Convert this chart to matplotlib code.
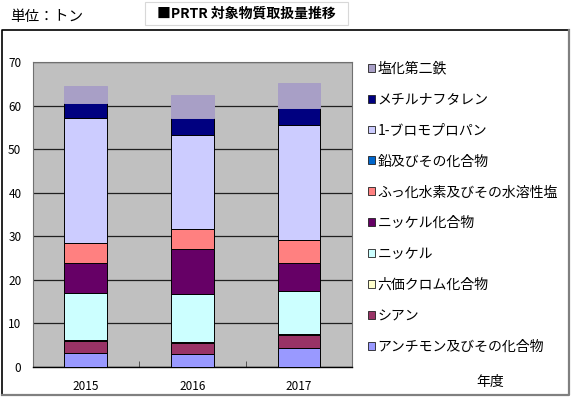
import matplotlib.pyplot as plt
from matplotlib.patches import Rectangle
import numpy as np

plt.rcParams['font.family'] = ['Noto Sans CJK JP', 'DejaVu Sans']

years = ['2015', '2016', '2017']
substances = ['アンチモン及びその化合物', 'シアン', '六価クロム化合物', 'ニッケル',
              'ニッケル化合物', 'ふっ化水素及びその水溶性塩', '鉛及びその化合物',
              '1-ブロモプロパン', 'メチルナフタレン', '塩化第二鉄']
antimony = [3.3, 3.0, 4.3]
cyanide = [2.6, 2.6, 3.1]
chromium6 = [0.3, 0.2, 0.1]
nickel = [10.8, 10.9, 10.0]
nickel_cmp = [7.0, 10.3, 6.4]
hf = [4.4, 4.8, 5.2]
lead = [0.0, 0.0, 0.0]
bromopropane = [28.7, 21.6, 26.6]
methylnaph = [3.6, 3.8, 3.7]
fecl3 = [3.9, 5.2, 5.8]
series = [antimony, cyanide, chromium6, nickel, nickel_cmp, hf, lead,
          bromopropane, methylnaph, fecl3]
colors = ['#9999FF', '#993366', '#FFFFCC', '#CCFFFF', '#660066', '#FF8080',
          '#0066CC', '#CCCCFF', '#000080', '#A89FC6']

W, H = 574, 399
fig = plt.figure(figsize=(W / 100, H / 100), dpi=100)
ax = fig.add_axes([32.5 / W, (H - 367) / H, (352.3 - 32.5) / W, (367 - 62.3) / H])
ax.set_facecolor('#C0C0C0')

x = np.arange(1, len(years) + 1)
bottom = np.zeros(len(years))
handles = []
for vals, c, name in zip(series, colors, substances):
    ec = c if name == '塩化第二鉄' else 'black'
    b = ax.bar(x, vals, 0.40, bottom=bottom, color=c, edgecolor=ec,
               linewidth=0.7, label=name, zorder=3)
    bottom += np.array(vals)
    handles.append(b)

ax.set_xlim(0.5, 3.5)
ax.set_ylim(0, 70)
ax.set_yticks(range(0, 71, 10))
ax.set_xticks(x)
ax.set_xticklabels(years)
ax.set_xticks([1.5, 2.5], minor=True)
ax.tick_params(axis='x', which='major', length=0, labelsize=8.5, pad=9)
ax.tick_params(axis='x', which='minor', direction='in', length=4, color='#404040')
ax.tick_params(axis='y', length=0, labelsize=8.5, pad=8)
ax.yaxis.grid(True, color='#202020', linewidth=0.9, zorder=1)
ax.set_axisbelow(True)
for s in ['top', 'right', 'left']:
    ax.spines[s].set_color('#707070')
    ax.spines[s].set_linewidth(0.8)
ax.spines['bottom'].set_color('black')
ax.spines['bottom'].set_linewidth(1.0)

leg = fig.legend(handles[::-1], substances[::-1], loc='upper left',
                 bbox_to_anchor=(362 / W, 1 - 56 / H), frameon=False,
                 fontsize=10, handlelength=0.5, handleheight=0.5,
                 handletextpad=0.2, labelspacing=1.22, borderaxespad=0)
for h in leg.legend_handles:
    h.set_edgecolor('#202020')
    h.set_linewidth(0.6)

# outer chart frame: dark top/left, grey shadow right/bottom
fig.add_artist(plt.Line2D([2 / W, 2 / W, 569 / W], [1 - 395 / H, 1 - 30 / H, 1 - 30 / H],
                          transform=fig.transFigure, color='black', linewidth=1.2))
fig.add_artist(plt.Line2D([2 / W, 569 / W, 569 / W], [1 - 395 / H, 1 - 395 / H, 1 - 30 / H],
                          transform=fig.transFigure, color='#808080', linewidth=1.6))
# title box
fig.patches.append(Rectangle((145 / W, 1 - 25 / H), 203 / W, 23 / H,
                             transform=fig.transFigure, facecolor='white',
                             edgecolor='#D8D8D8', linewidth=0.8))
fig.text(246 / W, 1 - 14 / H, '■PRTR 対象物質取扱量推移', ha='center', va='center',
         fontsize=10, fontweight='bold')
fig.text(10 / W, 1 - 17 / H, '単位：トン', ha='left', va='center', fontsize=10.5)
fig.text(490 / W, 1 - 382 / H, '年度', ha='center', va='center', fontsize=10)

fig.savefig('out.png', dpi=100)
